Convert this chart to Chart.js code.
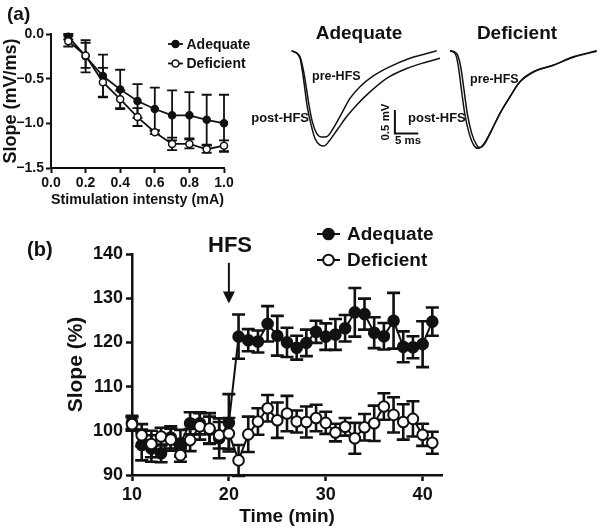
<!DOCTYPE html>
<html>
<head>
<meta charset="utf-8">
<script src="https://cdn.jsdelivr.net/npm/chart.js@4.4.1/dist/chart.umd.min.js"></script>
<style>
  html, body { margin:0; padding:0; background:#fff; }
  #stage { position:relative; width:600px; height:530px; overflow:hidden; background:#fff; }
  .wrap { position:absolute; }
  .lbl { position:absolute; white-space:nowrap; font-family:'Liberation Sans', Arial, sans-serif; font-weight:bold; color:#111; line-height:1; }
</style>
</head>
<body>
<div id="stage">
  <div class="wrap" style="left:0;top:0;"><canvas id="cA" width="260" height="213"></canvas></div>
  <div class="wrap" style="left:280px;top:40px;"><canvas id="cT1" width="170" height="120"></canvas></div>
  <div class="wrap" style="left:440px;top:40px;"><canvas id="cT2" width="160" height="120"></canvas></div>
  <div class="wrap" style="left:0;top:200px;"><canvas id="cB" width="600" height="330"></canvas></div>
</div>
<script>
// ---------------- DATA ----------------
// Panel (a): input-output curve
const intensity = [0.1, 0.2, 0.3, 0.4, 0.5, 0.6, 0.7, 0.8, 0.9, 1.0];
const ioAdequate = [-0.03, -0.25, -0.47, -0.62, -0.75, -0.84, -0.91, -0.91, -0.96, -1.00];
const ioAdequateErr = [0.03, 0.18, 0.24, 0.22, 0.19, 0.24, 0.28, 0.26, 0.28, 0.32];
const ioDeficient = [-0.08, -0.24, -0.54, -0.73, -0.93, -1.10, -1.23, -1.23, -1.29, -1.25];
const ioDeficientErr = [0.06, 0.14, 0.16, 0.10, 0.10, 0.02, 0.07, 0.05, 0.04, 0.06];
const aXTicks = [0, 0.2, 0.4, 0.6, 0.8, 1.0];
const aXTickLabels = ['0.0', '0.2', '0.4', '0.6', '0.8', '1.0'];
const aYTicks = [0, -0.5, -1.0, -1.5];
const aYTickLabels = ['0.0', '\u22120.5', '\u22121.0', '\u22121.5'];

// Panel (a): representative traces (time in ms, voltage in mV)
const adqPreT  = [0, 1.78, 2.63, 3.21, 3.77, 4.50, 5.35, 6.42, 7.49, 8.91, 10.71, 12.48, 14.63, 17.47, 21.05, 25.33, 28.91, 31.05];
const adqPreV  = [0, -0.13, -0.48, -0.84, -1.20, -1.55, -1.77, -1.85, -1.84, -1.66, -1.34, -1.02, -0.77, -0.54, -0.34, -0.16, -0.06, 0.0];
const adqPostT = [0, 1.78, 2.36, 2.85, 3.34, 4.07, 4.99, 6.06, 6.92, 8.20, 9.98, 11.78, 13.92, 16.77, 20.34, 24.63, 28.91, 31.76];
const adqPostV = [0, -0.16, -0.48, -0.84, -1.20, -1.55, -1.88, -2.02, -2.04, -1.91, -1.66, -1.41, -1.16, -0.88, -0.59, -0.38, -0.24, -0.16];
const defPreT  = [0, 1.43, 2.29, 3.00, 3.70, 4.65, 5.72, 6.42, 7.49, 8.93, 10.71, 12.85, 14.99, 17.84, 22.12, 26.40, 31.41];
const defPreV  = [0, -0.06, -0.34, -0.84, -1.34, -1.77, -2.02, -2.07, -1.98, -1.70, -1.34, -0.99, -0.66, -0.45, -0.31, -0.13, 0.0];
const defPostT = [0, 1.20, 1.80, 2.45, 3.15, 4.10, 5.20, 6.10, 7.20, 8.80, 10.65, 12.80, 14.95, 17.80, 22.10, 26.40, 31.41];
const defPostV = [0, -0.08, -0.34, -0.84, -1.34, -1.77, -2.04, -2.09, -2.00, -1.72, -1.35, -0.99, -0.67, -0.46, -0.31, -0.14, -0.01];
const scaleBarMs = 5, scaleBarMv = 0.5;
const scaleBarOriginT = 22.1, scaleBarOriginV = -1.77;

// Panel (b): LTP time course
const timeMin = [10,11,12,13,14,15,16,17,18,19,20,21,22,23,24,25,26,27,28,29,30,31,32,33,34,35,36,37,38,39,40,41];
const ltpAdequate = [101.9, 96.8, 96.0, 94.9, 98.5, 97.2, 101.7, 101.7, 100.2, 98.3, 101.8,
                     121.3, 120.5, 120.2, 124.2, 121.5, 120.0, 118.8, 119.9, 122.4, 121.3,
                     121.8, 123.2, 126.8, 126.4, 122.2, 121.4, 124.9, 119.0, 118.9, 119.6, 124.7];
const ltpAdequateErr = [1.5, 3.5, 3.0, 2.0, 2.5, 3.0, 2.5, 2.5, 3.0, 4.5, 6.5,
                        5.0, 2.5, 2.5, 4.0, 4.5, 3.3, 2.7, 3.0, 2.5, 3.0,
                        3.5, 3.0, 5.5, 3.5, 3.5, 3.0, 6.3, 3.5, 2.5, 5.2, 3.2];
const ltpDeficient = [101.5, 99.0, 97.0, 98.7, 98.0, 94.5, 97.9, 101.0, 100.5, 99.0, 99.4,
                      93.3, 99.2, 102.1, 105.1, 102.4, 103.9, 102.1, 102.0, 102.9, 101.8,
                      99.6, 100.9, 98.3, 100.8, 101.7, 105.5, 103.6, 102.0, 102.7, 99.1, 97.3];
const ltpDeficientErr = [1.5, 2.5, 3.0, 2.0, 2.5, 1.5, 2.5, 3.0, 3.5, 3.0, 3.5,
                         3.5, 4.0, 3.0, 3.0, 4.0, 4.0, 2.5, 3.5, 3.0, 2.5,
                         2.0, 2.0, 3.5, 3.0, 4.0, 3.0, 4.0, 4.0, 4.0, 2.5, 2.5];
const bXTicks = [10, 20, 30, 40];
const bXTickLabels = ['10', '20', '30', '40'];
const bYTicks = [90, 100, 110, 120, 130, 140];
const bYTickLabels = ['90', '100', '110', '120', '130', '140'];
const hfsTime = 20, hfsArrowFrom = 138, hfsArrowTo = 128.8;

// ---------------- HELPERS ----------------
const INK = '#111';
const FAMILY = "'Liberation Sans', Arial, Helvetica, sans-serif";
Chart.defaults.font.family = FAMILY;
Chart.defaults.font.weight = 'bold';
Chart.defaults.color = INK;

const pts = (xs, ys) => xs.map((x, i) => ({ x: x, y: ys[i] }));

const errorBarPlugin = {
  id: 'errorBars',
  beforeDatasetDraw(chart, args) {
    const ds = chart.data.datasets[args.index];
    if (!ds.errors) return;
    const meta = args.meta;
    const ys = chart.scales[meta.yAxisID];
    const ctx = chart.ctx;
    const cap = ds.errorCap;
    ctx.save();
    ctx.strokeStyle = INK;
    ctx.lineWidth = ds.errorWidth;
    ctx.lineCap = 'butt';
    meta.data.forEach((el, i) => {
      const v = ds.data[i].y, e = ds.errors[i];
      const x = el.x;
      const yT = ys.getPixelForValue(v + e), yB = ys.getPixelForValue(v - e);
      ctx.beginPath();
      ctx.moveTo(x, yT); ctx.lineTo(x, yB);
      ctx.moveTo(x - cap, yT); ctx.lineTo(x + cap, yT);
      ctx.moveTo(x - cap, yB); ctx.lineTo(x + cap, yB);
      ctx.stroke();
    });
    ctx.restore();
  }
};

const legendPlugin = {
  id: 'customLegend',
  afterDraw(chart, args, opts) {
    if (!opts || !opts.items) return;
    const ctx = chart.ctx;
    ctx.save();
    opts.items.forEach((dsIndex, k) => {
      const ds = chart.data.datasets[dsIndex];
      const y = opts.y + k * opts.gap;
      ctx.strokeStyle = INK;
      ctx.lineWidth = ds.borderWidth;
      ctx.beginPath();
      ctx.moveTo(opts.x - opts.lineHalf, y); ctx.lineTo(opts.x + opts.lineHalf, y);
      ctx.stroke();
      ctx.beginPath();
      ctx.arc(opts.x, y, ds.pointRadius, 0, Math.PI * 2);
      ctx.fillStyle = ds.pointBackgroundColor;
      ctx.fill();
      ctx.lineWidth = ds.pointBorderWidth;
      ctx.strokeStyle = ds.pointBorderColor;
      ctx.stroke();
      ctx.fillStyle = INK;
      ctx.font = 'bold ' + opts.fontSize + 'px ' + FAMILY;
      ctx.textBaseline = 'middle';
      ctx.textAlign = 'left';
      ctx.fillText(ds.label, opts.x + opts.textOffset, y + 1);
    });
    ctx.restore();
  }
};

const arrowPlugin = {
  id: 'hfsArrow',
  afterDraw(chart) {
    const xs = chart.scales.x, ys = chart.scales.y;
    const x = xs.getPixelForValue(hfsTime);
    const y0 = ys.getPixelForValue(hfsArrowFrom), y1 = ys.getPixelForValue(hfsArrowTo);
    const ctx = chart.ctx;
    ctx.save();
    ctx.strokeStyle = INK; ctx.fillStyle = INK; ctx.lineWidth = 2;
    ctx.beginPath(); ctx.moveTo(x, y0); ctx.lineTo(x, y1 - 8); ctx.stroke();
    ctx.beginPath(); ctx.moveTo(x - 6, y1 - 12); ctx.lineTo(x + 6, y1 - 12); ctx.lineTo(x, y1); ctx.closePath(); ctx.fill();
    ctx.restore();
  }
};

function fixedTicks(values) {
  return (scale) => { scale.ticks = values.map(v => ({ value: v })); };
}

// ---------------- PANEL (a) I/O CURVE ----------------
new Chart(document.getElementById('cA'), {
  type: 'line',
  data: {
    datasets: [
      { label: 'Adequate', data: pts(intensity, ioAdequate), errors: ioAdequateErr, errorCap: 5, errorWidth: 1.8,
        borderColor: INK, borderWidth: 1.8, pointRadius: 3.5, pointBackgroundColor: INK, pointBorderColor: INK,
        pointBorderWidth: 1.5, tension: 0, clip: false, order: 2 },
      { label: 'Deficient', data: pts(intensity, ioDeficient), errors: ioDeficientErr, errorCap: 5, errorWidth: 1.8,
        borderColor: INK, borderWidth: 1.8, pointRadius: 3.5, pointBackgroundColor: '#fff', pointBorderColor: INK,
        pointBorderWidth: 1.5, tension: 0, clip: false, order: 1 }
    ]
  },
  options: {
    responsive: false, animation: false, events: [],
    layout: { padding: { left: 0, top: 34, right: 36, bottom: 0 } },
    plugins: {
      legend: { display: false }, tooltip: { enabled: false },
      customLegend: { items: [0, 1], x: 175.5, y: 44, gap: 19.5, lineHalf: 7.5, textOffset: 11, fontSize: 14 }
    },
    scales: {
      x: {
        type: 'linear', min: 0, max: 1.0,
        afterBuildTicks: fixedTicks(aXTicks),
        afterFit: (s) => { s.height = 45; },
        ticks: { font: { size: 14, weight: 'bold' }, color: INK, padding: 2, maxRotation: 0,
                 callback: (v, i) => aXTickLabels[i] },
        grid: { display: true, drawOnChartArea: false, drawTicks: true, tickLength: 5, tickWidth: 2, tickColor: INK },
        border: { display: true, width: 2, color: INK },
        title: { display: true, text: 'Stimulation intensty (mA)', font: { size: 15, weight: 'bold' }, color: INK,
                 padding: { top: 0, bottom: 4 } }
      },
      y: {
        type: 'linear', min: -1.5, max: 0,
        afterBuildTicks: fixedTicks(aYTicks),
        afterFit: (s) => { s.width = 51; },
        ticks: { font: { size: 14, weight: 'bold' }, color: INK, padding: 2,
                 callback: (v, i) => aYTickLabels[i] },
        grid: { display: true, drawOnChartArea: false, drawTicks: true, tickLength: 5, tickWidth: 2, tickColor: INK },
        border: { display: true, width: 2, color: INK },
        title: { display: true, text: 'Slope (mV/ms)', font: { size: 18, weight: 'bold' }, color: INK,
                 padding: { top: 0, bottom: 0 } }
      }
    }
  },
  plugins: [errorBarPlugin, legendPlugin]
});

// ---------------- PANEL (a) TRACES ----------------
function traceChart(id, xmin, xmax, preT, preV, postT, postV, withBar) {
  const datasets = [
    { data: pts(preT, preV), borderColor: INK, borderWidth: 1.5, pointRadius: 0, cubicInterpolationMode: 'monotone', clip: false },
    { data: pts(postT, postV), borderColor: INK, borderWidth: 1.5, pointRadius: 0, cubicInterpolationMode: 'monotone', clip: false }
  ];
  if (withBar) {
    datasets.push({
      data: [ { x: scaleBarOriginT, y: scaleBarOriginV + scaleBarMv },
              { x: scaleBarOriginT, y: scaleBarOriginV },
              { x: scaleBarOriginT + scaleBarMs, y: scaleBarOriginV } ],
      borderColor: INK, borderWidth: 2, pointRadius: 0, tension: 0, clip: false
    });
  }
  new Chart(document.getElementById(id), {
    type: 'line',
    data: { datasets },
    options: {
      responsive: false, animation: false, events: [],
      layout: { padding: 0 },
      plugins: { legend: { display: false }, tooltip: { enabled: false } },
      scales: {
        x: { type: 'linear', display: false, min: xmin, max: xmax },
        y: { type: 'linear', display: false, min: -2.34, max: 0.23 }
      }
    }
  });
}
traceChart('cT1', -2.5, 33.9, adqPreT, adqPreV, adqPostT, adqPostV, true);
traceChart('cT2', -2.14, 32.12, defPreT, defPreV, defPostT, defPostV, false);

// ---------------- PANEL (b) LTP ----------------
new Chart(document.getElementById('cB'), {
  type: 'line',
  data: {
    datasets: [
      { label: 'Adequate', data: pts(timeMin, ltpAdequate), errors: ltpAdequateErr, errorCap: 6.5, errorWidth: 2.6,
        borderColor: INK, borderWidth: 2, pointRadius: 5.3, pointBackgroundColor: INK, pointBorderColor: INK,
        pointBorderWidth: 2, tension: 0, clip: false, order: 2 },
      { label: 'Deficient', data: pts(timeMin, ltpDeficient), errors: ltpDeficientErr, errorCap: 6.5, errorWidth: 2.6,
        borderColor: INK, borderWidth: 2, pointRadius: 5.3, pointBackgroundColor: '#fff', pointBorderColor: INK,
        pointBorderWidth: 2, tension: 0, clip: false, order: 1 }
    ]
  },
  options: {
    responsive: false, animation: false, events: [],
    layout: { padding: { left: 60, top: 54, right: 158, bottom: 0 } },
    plugins: {
      legend: { display: false }, tooltip: { enabled: false },
      customLegend: { items: [0, 1], x: 328.5, y: 34, gap: 26, lineHalf: 11.5, textOffset: 18.5, fontSize: 19 }
    },
    scales: {
      x: {
        type: 'linear', min: 10, max: 42,
        afterBuildTicks: fixedTicks(bXTicks),
        afterFit: (s) => { s.height = 55; },
        ticks: { font: { size: 18, weight: 'bold' }, color: INK, padding: 3, maxRotation: 0,
                 callback: (v, i) => bXTickLabels[i] },
        grid: { display: true, drawOnChartArea: false, drawTicks: true, tickLength: 6, tickWidth: 2.5, tickColor: INK },
        border: { display: true, width: 2.5, color: INK },
        title: { display: true, text: 'Time (min)', font: { size: 19, weight: 'bold' }, color: INK,
                 padding: { top: 0, bottom: 2 } }
      },
      y: {
        type: 'linear', min: 90, max: 140,
        afterBuildTicks: fixedTicks(bYTicks),
        afterFit: (s) => { s.width = 72; },
        ticks: { font: { size: 18, weight: 'bold' }, color: INK, padding: 3,
                 callback: (v, i) => bYTickLabels[i] },
        grid: { display: true, drawOnChartArea: false, drawTicks: true, tickLength: 6, tickWidth: 2.5, tickColor: INK },
        border: { display: true, width: 2.5, color: INK },
        title: { display: true, text: 'Slope (%)', font: { size: 21, weight: 'bold' }, color: INK,
                 padding: { top: 4, bottom: 0 } }
      }
    }
  },
  plugins: [errorBarPlugin, legendPlugin, arrowPlugin]
});

// ---------------- FREE TEXT LABELS ----------------
const stage = document.getElementById('stage');
function label(text, x, y, size, align, rotate) {
  const d = document.createElement('div');
  d.className = 'lbl';
  d.textContent = text;
  d.style.left = x + 'px';
  d.style.top = y + 'px';
  d.style.fontSize = size + 'px';
  const tx = align === 'center' ? '-50%' : (align === 'right' ? '-100%' : '0');
  d.style.transform = 'translate(' + tx + ', -50%)' + (rotate ? ' rotate(' + rotate + 'deg)' : '');
  if (rotate) d.style.transformOrigin = '0 50%';
  stage.appendChild(d);
  return d;
}
label('(a)', 7, 13, 19, 'left');
label('(b)', 27, 249, 20, 'left');
label('Adequate', 359, 32, 19, 'center');
label('Deficient', 517, 32, 19, 'center');
label('pre-HFS', 312, 76, 12.5, 'left');
label('post-HFS', 309, 117, 13, 'right');
label('pre-HFS', 470, 79, 12.5, 'left');
label('post-HFS', 408, 117, 13, 'left');
label('5 ms', 408, 141, 11.5, 'center');
const mv = label('0.5 mV', 386, 122, 11.5, 'center');
mv.style.transformOrigin = '50% 50%';
mv.style.transform = 'translate(-50%, -50%) rotate(-90deg)';
label('HFS', 230, 245, 22, 'center');
</script>
</body>
</html>
